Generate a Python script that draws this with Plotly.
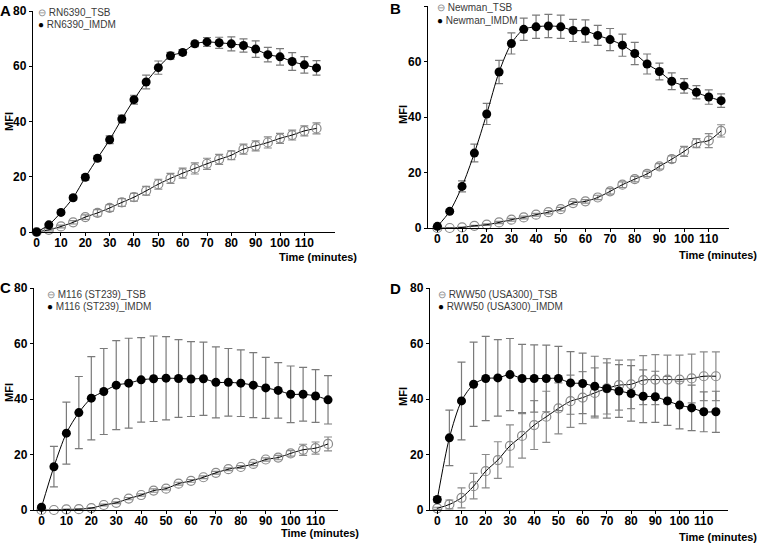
import plotly.graph_objects as go

times = [0, 5, 10, 15, 20, 25, 30, 35, 40, 45, 50, 55, 60, 65, 70, 75, 80, 85, 90, 95, 100, 105, 110, 115]

A_imdm = [0, 2.6, 7.1, 12.4, 19.8, 26.7, 33.4, 40.9, 47.9, 54.3, 59.5, 63.8, 65.0, 68.1, 68.8, 68.5, 68.1, 67.5, 66.2, 64.2, 63.4, 61.7, 60.5, 59.4]
A_imdm_err = [0, 0.5, 0.6, 0.8, 1.0, 1.0, 1.4, 1.4, 1.6, 2.5, 2.4, 1.2, 1.0, 1.0, 1.6, 2.0, 2.5, 2.4, 3.0, 2.6, 3.0, 3.2, 3.0, 2.6]
A_tsb = [0, 0.8, 2.0, 3.5, 5.4, 6.9, 8.7, 10.7, 12.6, 14.9, 17.3, 19.4, 21.3, 23.0, 24.7, 26.3, 27.8, 30.0, 31.2, 32.4, 33.9, 35.1, 36.6, 37.5]
A_tsb_err = [0.3, 0.4, 0.5, 0.6, 0.8, 1.2, 1.2, 1.4, 1.4, 1.6, 1.8, 1.8, 1.8, 2.0, 2.0, 1.8, 1.6, 1.8, 1.8, 2.0, 1.8, 1.8, 1.8, 2.0]

B_imdm = [0.6, 6.0, 15.0, 27.0, 41.1, 56.2, 66.5, 71.6, 72.5, 72.8, 72.5, 71.2, 71.0, 69.4, 67.9, 65.9, 62.9, 59.1, 56.4, 52.9, 51.2, 48.9, 47.2, 45.9]
B_imdm_err = [0.3, 0.6, 2.0, 3.2, 3.8, 4.2, 3.8, 4.0, 4.2, 4.2, 4.2, 4.0, 4.0, 3.6, 4.0, 4.0, 4.0, 3.6, 3.0, 3.0, 2.6, 2.4, 2.6, 2.4]
B_tsb = [0, 0, 0.2, 0.8, 1.2, 2.0, 3.0, 3.8, 4.8, 5.7, 6.8, 9.0, 9.6, 11.0, 13.2, 15.6, 17.6, 19.5, 22.2, 24.8, 27.6, 30.6, 31.5, 35.0]
B_tsb_err = [0, 0, 0.1, 0.2, 0.3, 0.4, 0.5, 0.5, 0.5, 0.6, 0.6, 0.6, 0.6, 0.8, 1.0, 1.0, 1.0, 1.0, 1.0, 1.2, 1.8, 1.6, 2.5, 2.2]

C_imdm = [1.0, 15.6, 27.7, 35.1, 40.3, 42.7, 45.0, 45.7, 46.9, 47.3, 47.5, 47.4, 47.2, 47.3, 46.0, 46.0, 45.7, 45.0, 44.0, 43.1, 41.7, 41.7, 41.1, 39.7]
C_imdm_err = [0.5, 7.3, 11.2, 13.0, 15.0, 15.5, 16.0, 16.2, 15.2, 15.4, 15.0, 14.0, 13.5, 13.2, 12.8, 12.2, 12.0, 11.7, 11.0, 10.0, 10.2, 9.7, 9.5, 8.7]
C_tsb = [0, 0, 0.2, 0.3, 0.7, 1.8, 2.6, 4.1, 5.4, 7.0, 7.7, 9.5, 10.5, 11.8, 13.4, 14.7, 15.5, 16.6, 18.2, 18.9, 20.4, 21.7, 22.3, 23.8]
C_tsb_err = [0, 0, 0.1, 0.1, 0.2, 0.3, 0.3, 0.4, 0.4, 0.6, 0.5, 0.5, 0.5, 0.5, 0.5, 0.5, 0.5, 0.6, 0.6, 0.8, 1.0, 2.0, 2.2, 2.5]

D_imdm = [3.8, 26.0, 39.3, 45.3, 47.4, 47.6, 48.8, 47.4, 47.4, 47.4, 47.4, 45.8, 45.6, 44.6, 43.8, 42.9, 42.0, 41.0, 40.8, 39.3, 37.8, 36.8, 35.4, 35.4]
D_imdm_err = [1.0, 10.0, 14.0, 15.2, 15.2, 13.8, 13.0, 12.3, 12.1, 12.0, 11.6, 11.3, 10.9, 10.8, 10.7, 9.5, 10.0, 9.5, 9.2, 8.8, 8.6, 8.2, 7.2, 7.4]
D_tsb = [0.6, 2.0, 4.4, 8.6, 14.0, 18.0, 23.1, 26.7, 30.6, 33.6, 36.6, 39.2, 40.5, 42.2, 43.8, 45.0, 45.3, 46.8, 47.0, 47.0, 47.0, 47.4, 48.2, 48.2]
D_tsb_err = [0.4, 1.6, 3.6, 4.6, 6.0, 6.6, 7.6, 8.0, 8.8, 9.2, 9.2, 9.4, 9.4, 9.0, 9.2, 9.0, 8.8, 8.8, 9.0, 8.8, 8.8, 8.8, 8.8, 8.8]

panel_letters = ["A", "B", "C", "D"]
strain_names = ["RN6390", "Newman", "M116 (ST239)", "RWW50 (USA300)"]
x_ticks = [0, 10, 20, 30, 40, 50, 60, 70, 80, 90, 100, 110]
y_ticks = [0, 20, 40, 60, 80]

W, H = 760, 545
FONT = "Liberation Sans, Arial, sans-serif"

def px(x):
    return x / W

def py(y):
    return 1 - y / H

# per-panel geometry in pixels
panels = [
    dict(data=(A_tsb, A_tsb_err, A_imdm, A_imdm_err), xl=33, xr=335, yb=232, yt=11, xrange=[-1.5, 122.6],
         letter=(5, 10), mfi=(9, 122), time=(359, 257), leg=(36, 12.5, 25)),
    dict(data=(B_tsb, B_tsb_err, B_imdm, B_imdm_err), xl=428, xr=729, yb=228, yt=6, xrange=[-3.8, 118.2],
         letter=(396, 8), mfi=(403, 115), time=(759, 255), leg=(435, 7, 20.5)),
    dict(data=(C_tsb, C_tsb_err, C_imdm, C_imdm_err), xl=34, xr=338, yb=510, yt=288, xrange=[-3.0, 119.0],
         letter=(5, 287), mfi=(9, 393), time=(361, 533), leg=(45, 294, 306)),
    dict(data=(D_tsb, D_tsb_err, D_imdm, D_imdm_err), xl=430, xr=728, yb=510, yt=288, xrange=[-3.0, 120.0],
         letter=(395, 288), mfi=(403, 397), time=(759, 537), leg=(436, 294, 306)),
]

fig = go.Figure()
annotations = []
layout_axes = {}

for i, p in enumerate(panels):
    n = "" if i == 0 else str(i + 1)
    xa, ya = "x" + n, "y" + n
    tsb, tsb_err, imdm, imdm_err = p["data"]
    name = strain_names[i]

    fig.add_trace(go.Scatter(
        x=times, y=tsb, xaxis=xa, yaxis=ya,
        name=name + "_TSB", mode="lines+markers", showlegend=False,
        line=dict(color="black", width=1, shape="spline", smoothing=0.8),
        marker=dict(symbol="circle-open", size=9, color="#8a8a8a", line=dict(width=1.2)),
        error_y=dict(type="data", array=tsb_err, visible=True, color="#8a8a8a", thickness=1.2, width=4),
        cliponaxis=False,
    ))
    fig.add_trace(go.Scatter(
        x=times, y=imdm, xaxis=xa, yaxis=ya,
        name=name + "_IMDM", mode="lines+markers", showlegend=False,
        line=dict(color="black", width=1, shape="spline", smoothing=0.8),
        marker=dict(symbol="circle", size=9, color="black"),
        error_y=dict(type="data", array=imdm_err, visible=True, color="#7a7a7a", thickness=1.2, width=4),
        cliponaxis=False,
    ))

    axis_common = dict(
        ticks="outside", ticklen=3, tickwidth=1.2, tickcolor="black", automargin=False,
        showline=True, linecolor="black", linewidth=1.4, showgrid=False, zeroline=False,
        tickfont=dict(family=FONT, size=12, color="black"),
    )
    layout_axes["xaxis" + n] = dict(
        domain=[px(p["xl"]), px(p["xr"])], range=p["xrange"], anchor=ya,
        tickmode="array", tickvals=x_ticks, ticktext=["<b>%d</b>" % v for v in x_ticks],
        ticklabelstandoff=-4, **axis_common,
    )
    layout_axes["yaxis" + n] = dict(
        domain=[py(p["yb"]), py(p["yt"])], range=[0, 80], anchor=xa,
        tickmode="array", tickvals=y_ticks, ticktext=["<b>%d</b>" % v for v in y_ticks],
        **axis_common,
    )

    lx, ly1, ly2 = p["leg"]
    annotations.append(dict(text="<span style='color:#8a8a8a'>⊖</span> " + name + "_TSB",
                            x=px(lx), y=py(ly1), xref="paper", yref="paper", showarrow=False,
                            xanchor="left", yanchor="middle",
                            font=dict(family=FONT, size=10, color="#3a3a3a")))
    annotations.append(dict(text="<span style='color:black'>●</span> " + name + "_IMDM",
                            x=px(lx), y=py(ly2), xref="paper", yref="paper", showarrow=False,
                            xanchor="left", yanchor="middle",
                            font=dict(family=FONT, size=10, color="#3a3a3a")))

    annotations.append(dict(text="<b>" + panel_letters[i] + "</b>", x=px(p["letter"][0]), y=py(p["letter"][1]),
                            xref="paper", yref="paper", showarrow=False, xanchor="center", yanchor="middle",
                            font=dict(family=FONT, size=15, color="black")))
    annotations.append(dict(text="<b>MFI</b>", x=px(p["mfi"][0]), y=py(p["mfi"][1]), textangle=-90,
                            xref="paper", yref="paper", showarrow=False, xanchor="center", yanchor="middle",
                            font=dict(family=FONT, size=11, color="black")))
    annotations.append(dict(text="<b>Time (minutes)</b>", x=px(p["time"][0]), y=py(p["time"][1]),
                            xref="paper", yref="paper", showarrow=False, xanchor="right", yanchor="middle",
                            font=dict(family=FONT, size=11, color="black")))

fig.update_layout(
    width=W, height=H, margin=dict(l=0, r=0, t=0, b=0, pad=0, autoexpand=False),
    paper_bgcolor="white", plot_bgcolor="white",
    showlegend=False, annotations=annotations,
    **layout_axes,
)

fig.write_html("out.html", config={"displayModeBar": False},
               post_script="document.body.style.margin='0';")
